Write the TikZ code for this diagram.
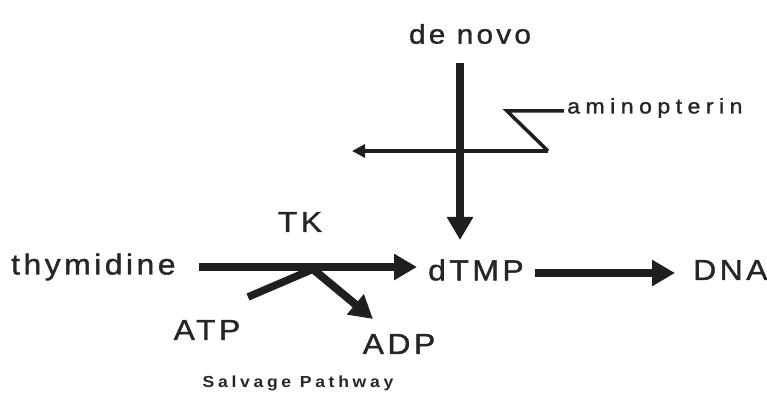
\documentclass[tikz,border=0pt]{standalone}
\usepackage{fontspec}
\setmainfont{Liberation Sans}
\newfontfamily\mainlab[LetterSpace=12,FakeBold=1.2,FakeStretch=1.1]{Liberation Sans}
\newfontfamily\smalllab[LetterSpace=26,FakeBold=1.2,FakeStretch=1.1]{Liberation Sans}
\newfontfamily\boldlab[LetterSpace=23,FakeStretch=1.1]{Liberation Sans Bold}
\usetikzlibrary{arrows.meta}
\tikzset{
  lab/.style={inner sep=0pt, font=\mainlab\fontsize{29}{31}\selectfont, text=black!85},
  toplab/.style={inner sep=0pt, font=\mainlab\fontsize{27}{29}\selectfont, text=black!85},
  smlab/.style={inner sep=0pt, font=\smalllab\fontsize{21}{23}\selectfont, text=black!85},
  caplab/.style={inner sep=0pt, font=\boldlab\fontsize{16}{18}\selectfont, text=black!85},
  thick arrow/.style={line width=8pt, draw=black!88, -{Triangle[length=23pt,width=25pt]}},
  thick line/.style={line width=7.5pt, draw=black!88},
  thin arrow/.style={line width=3.5pt, draw=black!88, -{Triangle[length=13pt,width=13pt]}},
  thin line/.style={line width=3.5pt, draw=black!88, line join=miter},
}
\begin{document}
\begin{tikzpicture}[x=1pt,y=-1pt]
\useasboundingbox (0,0) rectangle (767,411);
% labels
\node[toplab] (denovo) at (470,34) {de novo};
\node[smlab, anchor=west] (amino) at (567,108) {aminopterin};
\node[lab, anchor=west] (thy) at (11,267) {thymidine};
\node[lab] (tk) at (300,222) {TK};
\node[lab, anchor=west] (dtmp) at (428,270) {dTMP};
\node[lab, anchor=west] (dna) at (693,270) {DNA};
\node[lab] (atp) at (207,330) {ATP};
\node[lab] (adp) at (399,344) {ADP};
\node[caplab] (salv) at (298,383) {Salvage Pathway};
% coordinates
\coordinate (vtop) at (460,63);
\coordinate (vbot) at (460,240);
\coordinate (zstart) at (564,111);
\coordinate (zleft) at (507,111);
\coordinate (zright) at (548,151);
\coordinate (hleft) at (352,151);
\coordinate (tstart) at (199,267);
\coordinate (tend) at (417,267);
\coordinate (atps) at (248,297);
\coordinate (atpe) at (318,267);
\coordinate (adps) at (314,270);
\coordinate (adpe) at (373,319);
\coordinate (ds) at (535,273);
\coordinate (de) at (675,273);
% arrows
\draw[thick arrow] (vtop) -- (vbot);
\draw[thin line] (zstart) -- (zleft) -- (zright);
\draw[thin arrow] (zright) -- (hleft);
\draw[thick arrow] (tstart) -- (tend);
\draw[thick line] (atps) -- (atpe);
\draw[thick arrow] (adps) -- (adpe);
\draw[thick arrow] (ds) -- (de);
\end{tikzpicture}
\end{document}
